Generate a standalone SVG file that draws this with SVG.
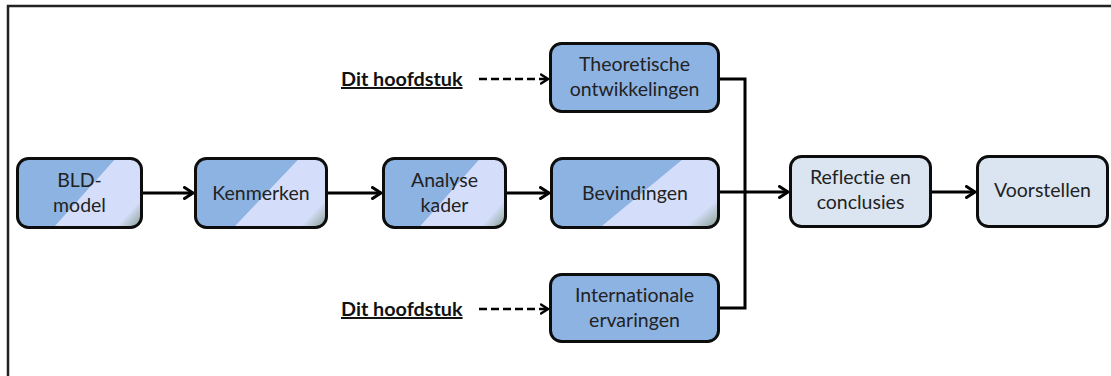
<svg xmlns="http://www.w3.org/2000/svg" width="1111" height="376" viewBox="0 0 1111 376">
  <defs>
    <linearGradient id="g1" x1="0" y1="0" x2="1.2" y2="0.6">
      <stop offset="0" stop-color="#8db3e2"/>
      <stop offset="0.525" stop-color="#8db3e2"/>
      <stop offset="0.53" stop-color="#d4defa"/>
      <stop offset="0.86" stop-color="#d4defa"/>
      <stop offset="1" stop-color="#849b8b"/>
    </linearGradient>
    <marker id="arr" viewBox="0 0 12 14" refX="10" refY="7" markerWidth="12" markerHeight="14" markerUnits="userSpaceOnUse" orient="auto">
      <path d="M1.5,1.5 L10,7 L1.5,12.5" fill="none" stroke="#000" stroke-width="3" stroke-linecap="round" stroke-linejoin="miter"/>
    </marker>
    <marker id="arrd" viewBox="0 0 10 12" refX="8.5" refY="6" markerWidth="10" markerHeight="12" markerUnits="userSpaceOnUse" orient="auto">
      <path d="M1.5,1.5 L8.5,6 L1.5,10.5" fill="none" stroke="#000" stroke-width="2.5" stroke-linecap="round"/>
    </marker>
  </defs>
  <style>
    .box { stroke: #0d0d0d; stroke-width: 3; }
    .grad { fill: url(#g1); }
    .mid { fill: #8db3e2; }
    .pale { fill: #dbe5f1; }
    text { font-variant-ligatures: none; }
    .lbl { font-family: Lato, "Open Sans", sans-serif; font-size: 19.5px; fill: #222; text-anchor: middle; }
    .dit { font-family: Lato, "Open Sans", sans-serif; font-size: 19.8px; font-weight: bold; fill: #111; text-decoration: underline; }
    .con { fill: none; stroke: #000; stroke-width: 3; }
    .dash { fill: none; stroke: #000; stroke-width: 2.5; stroke-dasharray: 8 4; }
  </style>
  <rect width="1111" height="376" fill="#fff"/>
  <path d="M8,376 L8,6 L1111,6" fill="none" stroke="#222" stroke-width="2.5"/>

  <g id="connectors">
    <line class="con" x1="143" y1="193" x2="193" y2="193" marker-end="url(#arr)"/>
    <line class="con" x1="328" y1="193" x2="381" y2="193" marker-end="url(#arr)"/>
    <line class="con" x1="507" y1="193" x2="549" y2="193" marker-end="url(#arr)"/>
    <line class="con" x1="720" y1="192" x2="788" y2="192" marker-end="url(#arr)"/>
    <line class="con" x1="932" y1="192" x2="975" y2="192" marker-end="url(#arr)"/>
    <polyline class="con" points="720,79 745,79 745,308 720,308"/>
    <line class="dash" x1="479" y1="79" x2="548" y2="79" marker-end="url(#arrd)"/>
    <line class="dash" x1="479" y1="309" x2="548" y2="309" marker-end="url(#arrd)"/>
  </g>

  <g id="bld">
    <rect class="box grad" x="17.5" y="158.5" width="124" height="69" rx="11"/>
    <text class="lbl" x="79.5" y="187">BLD-</text>
    <text class="lbl" x="79.5" y="212">model</text>
  </g>
  <g id="kenmerken">
    <rect class="box grad" x="195.5" y="158.5" width="131" height="69" rx="11"/>
    <text class="lbl" x="261" y="200">Kenmerken</text>
  </g>
  <g id="analyse">
    <rect class="box grad" x="383.5" y="158.5" width="122" height="69" rx="11"/>
    <text class="lbl" x="444.5" y="187">Analyse</text>
    <text class="lbl" x="444.5" y="212">kader</text>
  </g>
  <g id="bevindingen">
    <rect class="box grad" x="551.5" y="158.5" width="167" height="69" rx="11"/>
    <text class="lbl" x="635" y="200">Bevindingen</text>
  </g>
  <g id="theoretische">
    <rect class="box mid" x="550.5" y="43.5" width="168" height="68" rx="11"/>
    <text class="lbl" x="634.5" y="71">Theoretische</text>
    <text class="lbl" x="634.5" y="96">ontwikkelingen</text>
  </g>
  <g id="internationale">
    <rect class="box mid" x="550.5" y="274.5" width="168" height="67" rx="11"/>
    <text class="lbl" x="634.5" y="302">Internationale</text>
    <text class="lbl" x="634.5" y="327">ervaringen</text>
  </g>
  <g id="reflectie">
    <rect class="box pale" x="790.5" y="156.5" width="140" height="70" rx="11"/>
    <text class="lbl" x="860.5" y="184">Reflectie en</text>
    <text class="lbl" x="860.5" y="209">conclusies</text>
  </g>
  <g id="voorstellen">
    <rect class="box pale" x="977.5" y="156.5" width="130" height="70" rx="11"/>
    <text class="lbl" x="1042.5" y="197">Voorstellen</text>
  </g>
  <g id="dit1">
    <text class="dit" x="341" y="86">Dit hoofdstuk</text>
  </g>
  <g id="dit2">
    <text class="dit" x="341" y="316">Dit hoofdstuk</text>
  </g>
</svg>
